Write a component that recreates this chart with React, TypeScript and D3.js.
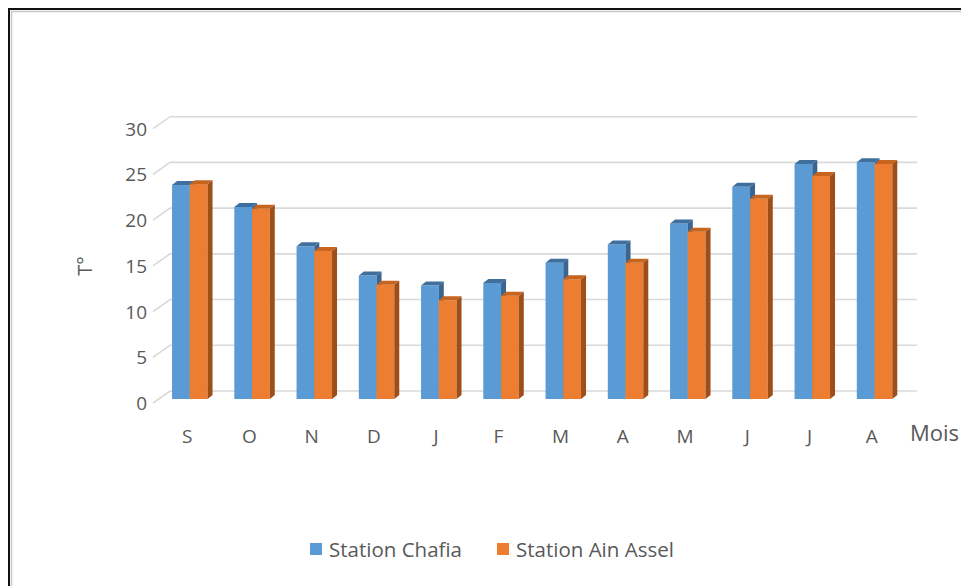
import React, { useEffect, useRef } from 'react';
import * as d3 from 'd3';

const months = ['S', 'O', 'N', 'D', 'J', 'F', 'M', 'A', 'M', 'J', 'J', 'A'];
const chafia = [23.4, 21.0, 16.7, 13.5, 12.4, 12.7, 14.9, 16.9, 19.2, 23.2, 25.7, 25.9];
const ainAssel = [23.5, 20.8, 16.2, 12.5, 10.8, 11.3, 13.1, 14.9, 18.3, 21.9, 24.4, 25.7];
const yTicks = [0, 5, 10, 15, 20, 25, 30];
const seriesNames = ['Station Chafia', 'Station Ain Assel'];

const FONT = '"Open Sans", "Noto Sans", sans-serif';

export default function App() {
    const svgRef = useRef<SVGSVGElement>(null);

    useEffect(() => {
        if (!svgRef.current) return;
        const svg = d3.select(svgRef.current);
        svg.selectAll('*').remove();

        // depth offsets (oblique projection)
        const depth = { dx: 17, dy: -12 };
        const frontLeft = 153, frontRight = 900, frontZero = 403;
        const barPlane = { dx: depth.dx / 3, dy: depth.dy / 3 };

        // frame
        svg.append('rect')
            .attr('x', 9).attr('y', 9).attr('width', 2000).attr('height', 2000)
            .attr('fill', 'white').attr('stroke', '#111').attr('stroke-width', 2);
        svg.append('path')
            .attr('d', 'M11.5,2000 V11.5 H2000')
            .attr('fill', 'none').attr('stroke', '#c8c8c8').attr('stroke-width', 1.5);

        const yFront = d3.scaleLinear().domain([0, 30]).range([frontZero, frontZero - 274.3]);
        const yBack = (v: number) => yFront(v) + depth.dy;
        const yBar = (v: number) => yFront(v) + barPlane.dy;

        const xFront = d3.scaleBand<number>()
            .domain(d3.range(months.length))
            .range([frontLeft, frontRight]);
        const xBar = d3.scaleBand<number>()
            .domain(d3.range(months.length))
            .range([frontLeft + barPlane.dx, frontRight + barPlane.dx])
            .paddingInner(0.43).paddingOuter(0.215);
        const xSub = d3.scaleBand<number>().domain([0, 1]).range([0, xBar.bandwidth()]);

        // gridlines on back wall + side wall diagonals
        const grid = svg.append('g').attr('stroke', '#d9d9d9').attr('stroke-width', 1.6).attr('fill', 'none');
        yTicks.forEach(t => {
            grid.append('path')
                .attr('d', `M${frontLeft},${yFront(t)} L${frontLeft + depth.dx},${yBack(t)} H${frontRight + depth.dx}`);
        });

        // tick labels
        svg.append('g').selectAll('text').data(yTicks).join('text')
            .attr('x', 147).attr('y', d => yFront(d))
            .attr('text-anchor', 'end').attr('dominant-baseline', 'central')
            .attr('font-family', FONT).attr('font-size', 19).attr('fill', '#595959')
            .text(d => String(d));

        // axis title
        svg.append('text')
            .attr('transform', `translate(84,${yFront(15)}) rotate(-90)`)
            .attr('text-anchor', 'middle').attr('dominant-baseline', 'central')
            .attr('font-family', FONT).attr('font-size', 20).attr('fill', '#595959')
            .text('T°');

        const colors = [
            { front: '#5b9bd5', top: '#3f6f9c', side: '#3a6590' },
            { front: '#ed7d31', top: '#c7651f', side: '#9e4f19' },
        ];
        const bd = { dx: 5, dy: -4 };

        const bars = svg.append('g');
        months.forEach((_, i) => {
            [chafia[i], ainAssel[i]].forEach((v, s) => {
                const x0 = (xBar(i) ?? 0) + (xSub(s) ?? 0);
                const x1 = x0 + xSub.bandwidth();
                const y0 = yBar(0);
                const yt = yBar(v);
                const c = colors[s];
                bars.append('rect')
                    .attr('x', x0).attr('y', yt).attr('width', x1 - x0).attr('height', y0 - yt)
                    .attr('fill', c.front);
                bars.append('path')
                    .attr('d', `M${x0},${yt} L${x0 + bd.dx},${yt + bd.dy} L${x1 + bd.dx},${yt + bd.dy} L${x1},${yt} Z`)
                    .attr('fill', c.top);
                bars.append('path')
                    .attr('d', `M${x1},${yt} L${x1 + bd.dx},${yt + bd.dy} L${x1 + bd.dx},${y0 + bd.dy} L${x1},${y0} Z`)
                    .attr('fill', c.side);
            });
        });

        // category labels
        svg.append('g').selectAll('text').data(months).join('text')
            .attr('x', (_, i) => (xFront(i) ?? 0) + xFront.bandwidth() / 2 + 3)
            .attr('y', 436)
            .attr('text-anchor', 'middle').attr('dominant-baseline', 'central')
            .attr('font-family', FONT).attr('font-size', 19).attr('fill', '#595959')
            .text(d => d);

        svg.append('text')
            .attr('x', 910).attr('y', 432)
            .attr('dominant-baseline', 'central')
            .attr('font-family', FONT).attr('font-size', 22).attr('fill', '#595959')
            .text('Mois');

        // legend
        const legendX = [310, 497];
        seriesNames.forEach((name, s) => {
            svg.append('rect')
                .attr('x', legendX[s]).attr('y', 543).attr('width', 12).attr('height', 12)
                .attr('fill', colors[s].front);
            svg.append('text')
                .attr('x', legendX[s] + 19).attr('y', 549)
                .attr('dominant-baseline', 'central')
                .attr('font-family', FONT).attr('font-size', 20.5).attr('fill', '#595959')
                .text(name);
        });
    }, []);

    return (
        <svg ref={svgRef} width={961} height={586}
            style={{ position: 'absolute', left: 0, top: 0, background: 'white' }} />
    );
}
